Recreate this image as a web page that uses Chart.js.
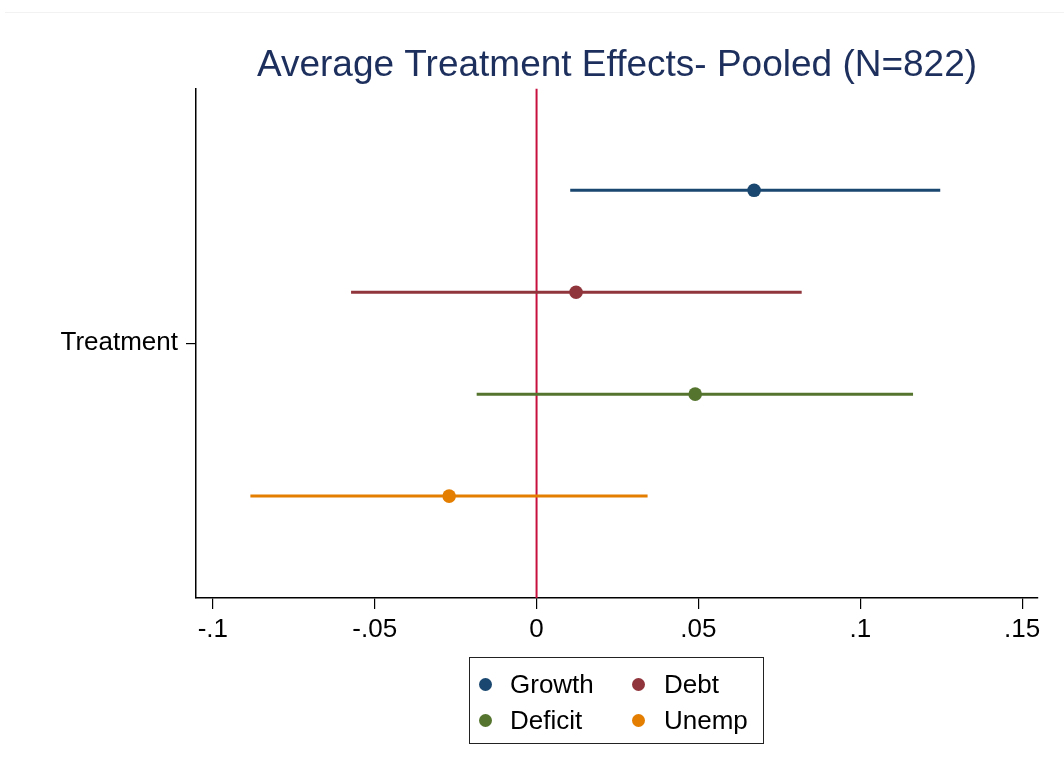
<!DOCTYPE html>
<html>
<head>
<meta charset="utf-8">
<script src="https://cdn.jsdelivr.net/npm/chart.js@4/dist/chart.umd.min.js"></script>
<style>
  html, body { margin: 0; padding: 0; background: #fff; }
  #wrap { position: relative; width: 1064px; height: 775px; font-family: "Liberation Sans", Arial, sans-serif; }
  #topline { position: absolute; left: 5px; right: 0; top: 12px; height: 1px; background: #f2f2f2; }
  #c { position: absolute; left: 0; top: 0; }
  #legend { position: absolute; left: 469px; top: 657px; width: 295px; height: 87px; border: 1px solid #222; box-sizing: border-box; }
  .item { position: absolute; font-size: 26px; color: #000; line-height: 26px; }
  .dot { position: absolute; width: 13px; height: 13px; border-radius: 50%; }
</style>
</head>
<body>
<div id="wrap">
  <div id="topline"></div>
  <canvas id="c" width="1064" height="775"></canvas>
  <div id="legend"></div>
</div>
<script>
const categories = ['Growth', 'Debt', 'Deficit', 'Unemp'];
const estimates = [0.0672, 0.0122, 0.0490, -0.0270];
const lower = [0.0104, -0.0573, -0.0185, -0.0884];
const upper = [0.1247, 0.0819, 0.1163, 0.0343];
const rows = [4, 3, 2, 1];
const colors = ['#1a476f', '#90353b', '#55752f', '#e37e00'];
const xTickValues = [-0.1, -0.05, 0, 0.05, 0.1, 0.15];
const xTickLabels = ['-.1', '-.05', '0', '.05', '.1', '.15'];
const yTickValues = [2.5];
const yTickLabels = ['Treatment'];
const titleText = 'Average Treatment Effects- Pooled (N=822)';

const datasets = [];
// zero reference line
datasets.push({
  type: 'line', label: 'zero', data: [{x: 0, y: 0}, {x: 0, y: 5}],
  borderColor: '#c8103e', borderWidth: 2, pointRadius: 0, showLine: true, order: 5
});
categories.forEach((c, i) => {
  datasets.push({
    type: 'line', label: c + ' CI',
    data: [{x: lower[i], y: rows[i]}, {x: upper[i], y: rows[i]}],
    borderColor: colors[i], borderWidth: 3, pointRadius: 0, showLine: true, order: 2
  });
  datasets.push({
    type: 'scatter', label: c,
    data: [{x: estimates[i], y: rows[i]}],
    backgroundColor: colors[i], borderColor: colors[i], pointRadius: 6.8, borderWidth: 0, order: 1
  });
});

const font = {family: '"Liberation Sans", Arial, sans-serif', size: 26};

new Chart(document.getElementById('c'), {
  type: 'scatter',
  data: {datasets},
  options: {
    responsive: false,
    animation: false,
    layout: {padding: {left: 0, right: 26, top: 0, bottom: 0}},
    plugins: {
      legend: {display: false},
      tooltip: {enabled: false},
      title: {
        display: true, text: titleText, fullSize: false,
        color: '#1d2f5c',
        font: {family: '"Liberation Sans", Arial, sans-serif', size: 37, weight: 'normal'},
        padding: {top: 44, bottom: 0}
      }
    },
    scales: {
      x: {
        type: 'linear', min: -0.1052, max: 0.1549,
        afterBuildTicks: s => { s.ticks = xTickValues.map(v => ({value: v})); },
        afterFit: s => { s.height = 177; },
        ticks: {
          color: '#000', font, padding: 5, maxRotation: 0, autoSkip: false,
          callback: (v, i) => xTickLabels[i]
        },
        grid: {drawOnChartArea: false, drawTicks: true, tickLength: 11, color: '#000', lineWidth: 1.2},
        border: {display: true, color: '#000', width: 1.5}
      },
      y: {
        type: 'linear', min: 0, max: 5,
        afterBuildTicks: s => { s.ticks = yTickValues.map(v => ({value: v})); },
        afterFit: s => { s.width = 196; },
        ticks: {
          color: '#000', font, padding: 8, autoSkip: false,
          callback: (v, i) => yTickLabels[i]
        },
        grid: {drawOnChartArea: false, drawTicks: true, tickLength: 10, color: '#000', lineWidth: 1.2},
        border: {display: true, color: '#000', width: 1.5}
      }
    }
  }
});

// legend (2x2)
const legend = document.getElementById('legend');
const pos = [[0, 0], [1, 0], [0, 1], [1, 1]];
categories.forEach((c, i) => {
  const [col, row] = pos[i];
  const dot = document.createElement('div');
  dot.className = 'dot';
  dot.style.background = colors[i];
  dot.style.left = (9 + col * 153) + 'px';
  dot.style.top = (20 + row * 36) + 'px';
  legend.appendChild(dot);
  const t = document.createElement('div');
  t.className = 'item';
  t.textContent = c;
  t.style.left = (40 + col * 154) + 'px';
  t.style.top = (13 + row * 36) + 'px';
  legend.appendChild(t);
});
</script>
</body>
</html>
